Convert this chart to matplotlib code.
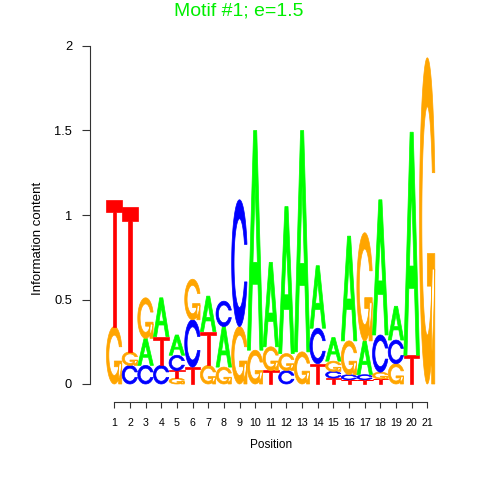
import numpy as np
import matplotlib
matplotlib.use('Agg')
import matplotlib.pyplot as plt
from matplotlib.path import Path
from matplotlib.patches import PathPatch

# information content (bits) of each base at each position
positions = list(range(1, 22))
bits_A = [0, 0, 0.16, 0.23, 0.12, 0, 0.21, 0.24, 0, 1.30, 0.50,
          0.87, 1.31, 0.37, 0.14, 0.62, 0.20, 0.80, 0.20, 1.32, 0]
bits_C = [0, 0.11, 0.11, 0.11, 0.09, 0.28, 0, 0.15, 0.75, 0, 0,
          0.08, 0, 0.21, 0.04, 0.03, 0.03, 0.22, 0.14, 0, 0]
bits_G = [0.34, 0.08, 0.24, 0, 0.035, 0.24, 0.11, 0.10, 0.34, 0.20, 0.14,
          0.10, 0.19, 0, 0.06, 0.20, 0.64, 0.04, 0.12, 0, 1.93]
bits_T = [0.75, 0.86, 0, 0.17, 0.045, 0.10, 0.20, 0, 0, 0, 0.08,
          0, 0, 0.12, 0.035, 0.025, 0.025, 0.03, 0, 0.17, 0]
# stacking order of the letters in each column, bottom to top
stacks = ['GT', 'CGT', 'CAG', 'CTA', 'GTCA', 'TCG', 'GTA', 'GAC', 'GC', 'GA',
          'TGA', 'CGA', 'GA', 'TCA', 'TCGA', 'TCGA', 'TCAG', 'TGCA', 'GCA',
          'TA', 'G']

colors = {'A': '#00FF00', 'C': '#0000FF', 'G': '#FFA500', 'T': '#FF0000'}


def ring():
    # outline of the C, in a unit box
    a1 = np.linspace(0.3 + np.pi / 2, np.pi, 100)
    a2 = np.linspace(np.pi, 1.5 * np.pi, 100)
    xl1, yl1 = 0.5 + 0.5 * np.sin(a1), 0.5 + 0.5 * np.cos(a1)
    xl = np.r_[xl1, 0.5 + 0.5 * np.sin(a2)]
    yl = np.r_[yl1, 0.5 + 0.5 * np.cos(a2)]
    x = np.r_[xl, xl[::-1]]
    y = np.r_[yl, 1 - yl[::-1]]
    h = yl1.max()
    xi1, yi1 = 0.5 + 0.35 * np.sin(a1), 0.5 + 0.35 * np.cos(a1)
    keep = yi1 <= h
    xi1, yi1 = xi1[keep], yi1[keep].copy()
    yi1[0] = h
    xi = np.r_[xi1, 0.5 + 0.35 * np.sin(a2)]
    yi = np.r_[yi1, 0.5 + 0.35 * np.cos(a2)]
    x1 = np.r_[xi, xi[::-1]]
    y1 = np.r_[yi, 1 - yi[::-1]]
    return np.r_[x, x1[::-1]], np.r_[y, y1[::-1]], xl1.max()


def letter_polys(ch):
    if ch == 'A':
        outer = [(0, 0), (4, 10), (6, 10), (10, 0), (8, 0), (6.8, 3), (3.2, 3), (2, 0)]
        hole = [(3.6, 4), (6.4, 4), (5, 7.5)]
        return [np.array(outer) / 10, np.array(hole) / 10]
    if ch == 'T':
        pts = [(0, 10), (10, 10), (10, 9), (6, 9), (6, 0), (4, 0), (4, 9), (0, 9)]
        return [np.array(pts) / 10]
    x, y, r1 = ring()
    polys = [np.c_[x, y]]
    if ch == 'G':
        bar = [(r1, 0.4), (0.5, 0.4), (0.5, 0.3), (r1 - 0.2, 0.3),
               (r1 - 0.2, 0), (r1, 0)]
        polys.append(np.array(bar))
    return polys


def draw_letter(ax, ch, x, y0, h, width=1.0):
    if h <= 0:
        return
    verts, codes = [], []
    for p in letter_polys(ch):
        p = np.c_[x - width / 2 + width * p[:, 0], y0 + h * p[:, 1]]
        verts += list(p) + [p[0]]
        codes += [Path.MOVETO] + [Path.LINETO] * (len(p) - 1) + [Path.CLOSEPOLY]
    ax.add_patch(PathPatch(Path(verts, codes), fc=colors[ch], ec=colors[ch],
                           lw=0.5, clip_on=False))


fig = plt.figure(figsize=(4.8, 4.8), dpi=100)
# axes placed so that x=1 -> 114px, x=21 -> 427px, y=0 -> 384px, y=2 -> 46px
ax = fig.add_axes([90 / 480, 96 / 480, 350 / 480, 338 / 480])
ax.set_xlim(-0.553, 21.81)
ax.set_ylim(0, 2)

for i, p in enumerate(positions):
    bits = {'A': bits_A[i], 'C': bits_C[i], 'G': bits_G[i], 'T': bits_T[i]}
    y = 0
    for ch in stacks[i]:
        draw_letter(ax, ch, p, y, bits[ch])
        y += bits[ch]

for s in ['top', 'right']:
    ax.spines[s].set_visible(False)
ax.spines['left'].set_bounds(0, 2)
ax.spines['bottom'].set_bounds(1, 21)
ax.spines['bottom'].set_position(('outward', 13))
for s in ['left', 'bottom']:
    ax.spines[s].set_linewidth(0.8)
    ax.spines[s].set_color('#333333')

ax.set_yticks([0, 0.5, 1, 1.5, 2])
ax.set_yticklabels(['0', '0.5', '1', '1.5', '2'])
ax.set_xticks(positions)
ax.set_xticklabels([str(p) for p in positions])
ax.tick_params(axis='y', length=5.8, pad=7, labelsize=9.3, width=0.8, color='#333333')
ax.tick_params(axis='x', length=4.3, pad=7, labelsize=7.7, width=0.8, color='#333333')
for lab in ax.get_xticklabels() + ax.get_yticklabels():
    lab.set_fontfamily('Liberation Sans')

fig.text(239 / 480, 1 - 15 / 480, 'Motif #1; e=1.5', color='#00EE00',
         fontsize=14, family='Liberation Sans', ha='center', va='baseline')
fig.text(271 / 480, 1 - 445 / 480, 'Position', fontsize=8.5,
         family='Liberation Sans', ha='center', va='center')
fig.text(38 / 480, 1 - 238 / 480, 'Information content', fontsize=9.5,
         family='Liberation Sans', ha='center', va='center', rotation=90)

fig.savefig('out.png', dpi=100)
